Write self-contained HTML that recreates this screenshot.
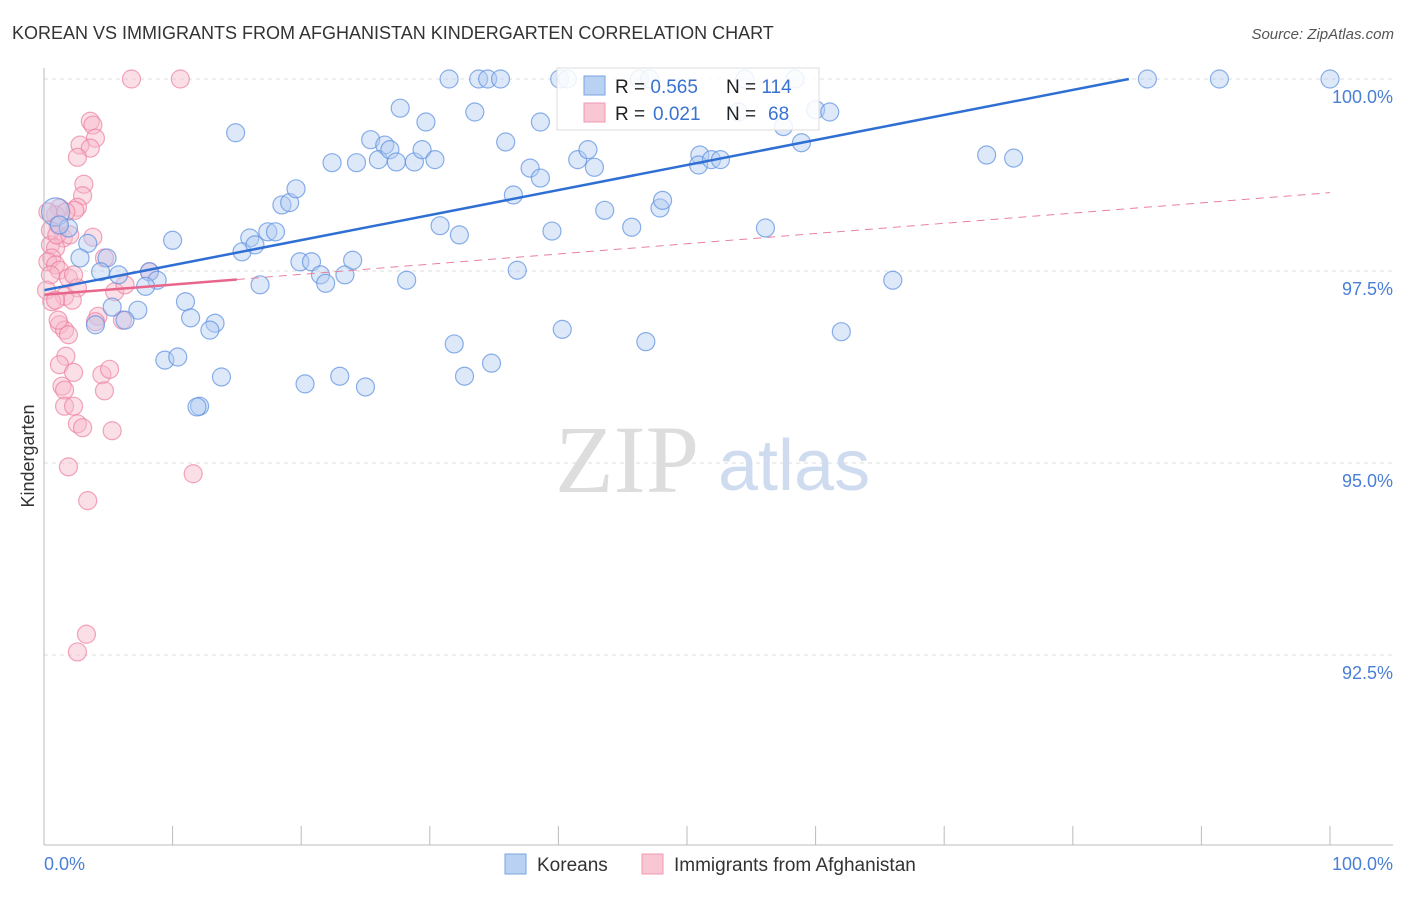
<!DOCTYPE html>
<html><head><meta charset="utf-8"><style>
body{margin:0;background:#fff;font-family:"Liberation Sans",sans-serif}
svg text{font-family:"Liberation Sans",sans-serif}
</style></head><body>
<svg width="1406" height="892" xmlns="http://www.w3.org/2000/svg">
<text x="12" y="39" font-size="18" fill="#333">KOREAN VS IMMIGRANTS FROM AFGHANISTAN KINDERGARTEN CORRELATION CHART</text>
<text x="1394" y="39" font-size="15" fill="#555" text-anchor="end" font-style="italic">Source: ZipAtlas.com</text>
<g id="grid"></g>
<text x="555" y="492" font-size="96" fill="#ddd" font-family="Liberation Serif" style="font-family:'Liberation Serif',serif">ZIP</text>
<text x="718" y="490" font-size="72" fill="#cfdcf0">atlas</text>
<g id="pts"></g>
<g id="lines"></g>
<g id="axes"></g>
<text x="34" y="456" font-size="18" fill="#333" transform="rotate(-90 34 456)" text-anchor="middle">Kindergarten</text>
<g>
<rect x="557" y="68" width="262" height="62" fill="#fff" fill-opacity="0.85" stroke="#ddd"/>
<rect x="584" y="76" width="21" height="19" fill="#b9d1f3" stroke="#7aa3e0"/>
<rect x="584" y="103" width="21" height="19" fill="#f9c6d4" stroke="#ee9ab2"/>
<text x="615" y="93" font-size="19" fill="#222">R = <tspan fill="#3a72d0">0.565</tspan><tspan x="726">N = </tspan><tspan fill="#3a72d0">114</tspan></text>
<text x="615" y="120" font-size="19" fill="#222">R = <tspan x="653" fill="#3a72d0">0.021</tspan><tspan x="726">N = </tspan><tspan x="768" fill="#3a72d0">68</tspan></text>
</g>
<g>
<rect x="505" y="854" width="21" height="20" fill="#b9d1f3" stroke="#7aa3e0"/>
<text x="537" y="871" font-size="19" fill="#333">Koreans</text>
<rect x="642" y="854" width="21" height="20" fill="#f9c6d4" stroke="#ee9ab2"/>
<text x="674" y="871" font-size="19" fill="#333">Immigrants from Afghanistan</text>
</g>
</svg>
<script>
const yTicks=[100,97.5,95,92.5];
const yTickLabels=["100.0%","97.5%","95.0%","92.5%"];
const xTicks=[0,10,20,30,40,50,60,70,80,90,100];
const koreanX=[0.9,1.9,1.2,3.4,2.8,4.9,4.4,5.8,8.2,8.8,7.9,5.3,7.3,6.3,4.0,10.0,14.9,16.0,15.4,16.4,17.4,18.0,18.5,19.1,19.6,19.9,20.8,21.5,21.9,23.4,24.0,16.8,11.0,11.4,13.3,12.9,9.4,10.4,13.8,12.1,11.9,20.3,23.0,25.0,22.4,24.3,25.4,26.5,26.0,26.9,27.4,27.7,28.8,29.4,29.7,30.4,30.8,31.5,32.3,33.8,34.5,35.5,33.5,35.9,36.5,36.8,37.8,38.6,39.5,40.1,40.7,38.6,41.5,42.3,42.8,43.6,45.7,47.9,48.1,46.3,47.1,51.0,50.9,51.9,52.6,54.5,56.1,57.5,58.4,60.0,61.1,58.9,66.0,73.3,75.4,85.8,91.4,100,28.2,31.9,32.7,34.8,40.3,46.8,62.0,54.0];
const koreanY=[98.27,98.06,98.10,97.86,97.67,97.67,97.49,97.45,97.49,97.38,97.30,97.03,96.99,96.86,96.80,97.90,99.30,97.93,97.75,97.84,98.01,98.01,98.36,98.39,98.57,97.62,97.62,97.45,97.34,97.45,97.64,97.32,97.10,96.89,96.82,96.73,96.34,96.38,96.12,95.74,95.73,96.03,96.13,95.99,98.91,98.91,99.21,99.14,98.95,99.08,98.92,99.62,98.92,99.08,99.44,98.95,98.09,100,97.97,100,100,100,99.57,99.18,98.49,97.51,98.84,98.71,98.02,100,100,99.44,98.95,99.08,98.85,98.29,98.07,98.32,98.42,100,100,99.01,98.88,98.95,98.95,100,98.06,99.38,100,99.60,99.57,99.17,97.38,99.01,98.97,100,100,100,97.38,96.55,96.13,96.30,96.74,96.58,96.71,99.57];
const afghanX=[6.8,10.6,3.6,3.8,4.0,2.8,3.6,2.6,3.1,3.0,2.6,2.4,1.2,0.9,0.3,1.1,1.5,3.8,0.5,0.9,0.6,0.3,0.9,1.2,4.7,0.5,1.9,5.5,2.6,1.6,2.2,1.2,1.6,1.9,4.2,4.0,6.1,1.7,1.2,2.3,4.5,5.1,1.4,1.6,4.7,1.6,2.3,2.6,3.0,5.3,1.9,11.6,3.4,3.3,2.6,1.1,0.2,0.6,0.5,1.0,1.7,2.0,2.3,0.9,8.2,6.3];
const afghanY=[100,100,99.45,99.40,99.23,99.14,99.10,98.98,98.63,98.48,98.33,98.29,98.32,98.23,98.27,98.10,97.93,97.94,97.84,97.80,97.67,97.62,97.58,97.51,97.67,97.45,97.41,97.23,97.28,97.17,97.12,96.80,96.73,96.67,96.91,96.84,96.86,96.39,96.28,96.18,96.15,96.22,96.00,95.95,95.94,95.74,95.74,95.51,95.46,95.42,94.95,94.86,94.51,92.77,92.54,96.86,97.25,97.10,98.03,97.97,98.27,97.97,97.45,97.12,97.49,97.32];
const koreanTrend=[97.25,100.51];
const afghanTrend=[97.19,98.52];

const NS="http://www.w3.org/2000/svg";
const xs=v=>44+v*12.86;
const ys=v=>79+(100-v)*76.8;
function mk(tag,at,parent){const e=document.createElementNS(NS,tag);for(const k in at)e.setAttribute(k,at[k]);document.getElementById(parent).appendChild(e);return e;}
yTicks.forEach((t,i)=>{
  const l=mk('line',{x1:44,x2:1393,y1:ys(t),y2:ys(t),stroke:'#ddd','stroke-dasharray':'4,4'},'grid');
  
  
  const tx=mk('text',{x:1393,y:ys(t)+24,'font-size':18,fill:'#4a7fd6','text-anchor':'end'},'axes');
  tx.textContent=yTickLabels[i];
  
  
});
const ax=mk('line',{x1:44,x2:1393,y1:845,y2:845,stroke:'#bbb'},'axes');


const ay=mk('line',{x1:44,x2:44,y1:68,y2:845,stroke:'#bbb'},'axes');


xTicks.forEach(t=>{
  const l=mk('line',{x1:xs(t),x2:xs(t),y1:826,y2:845,stroke:'#bbb'},'axes');
  
  
});
[[0,'0.0%','start',44],[100,'100.0%','end',1393]].forEach(d=>{
  const t=mk('text',{x:d[3],y:870,'font-size':18,fill:'#4a7fd6','text-anchor':d[2]},'axes');
  t.textContent=d[1];
  
  
});
function pts(X,Y,fill,stroke,name){
  X.forEach((x,i)=>{
    const r=(name==='korean-point'&&i===0)?14:9;
    const c=mk('circle',{cx:xs(x),cy:ys(Y[i]),r:r,fill:fill,'fill-opacity':0.45,stroke:stroke,'stroke-opacity':0.7,'stroke-width':1.2},'pts');
    
    
  });
}
pts(afghanX,afghanY,'#f7b8ca','#ec7fa0','afghan-point');
pts(koreanX,koreanY,'#b3cdf2','#5a8fe0','korean-point');
const kEnd=(100-koreanTrend[0])/((koreanTrend[1]-koreanTrend[0])/100);
const kl=mk('line',{x1:xs(0),y1:ys(koreanTrend[0]),x2:xs(kEnd),y2:ys(100),stroke:'#2f6fd4','stroke-width':2.5},'lines');


const af=x=>afghanTrend[0]+(afghanTrend[1]-afghanTrend[0])*x/100;
const al=mk('line',{x1:xs(0),y1:ys(af(0)),x2:xs(15),y2:ys(af(15)),stroke:'#e8668c','stroke-width':2.5},'lines');


const ad=mk('line',{x1:xs(15),y1:ys(af(15)),x2:xs(100),y2:ys(af(100)),stroke:'#e8809f','stroke-width':1,'stroke-dasharray':'8,6'},'lines');


</script>
</body></html>
